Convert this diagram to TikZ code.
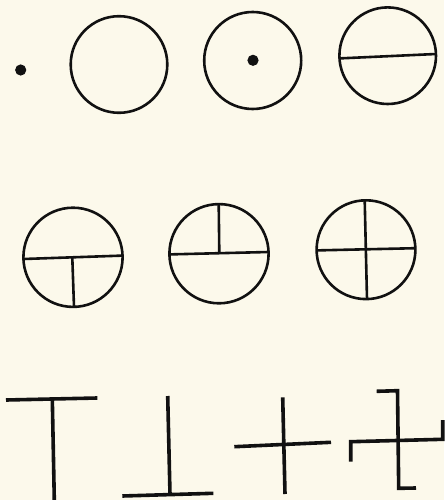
\documentclass[tikz,border=0pt]{standalone}
\usepackage{tikz}
\definecolor{paper}{HTML}{FCF9EB}
\definecolor{ink}{HTML}{111111}
\begin{document}
\begin{tikzpicture}[x=1pt,y=-1pt,
  ring/.style={draw=ink,line width=2.6pt},
  bar/.style={draw=ink,line width=2.6pt},
  stroke/.style={draw=ink,line width=3.6pt},
  spot/.style={fill=ink}]
\fill[paper] (0,0) rectangle (444,500);
\useasboundingbox (0,0) rectangle (444,500);
% row 1
\fill[spot] (20.7,70) circle (5.6);
\draw[ring] (119,64.5) circle (48.3);
\draw[ring] (252.7,60.5) circle (48.5);
\fill[spot] (253,60.3) circle (5.6);
\draw[ring] (387.7,55.7) circle (48.3);
\draw[bar] (339.6,58.4) -- (436,54);
% row 2
\draw[ring] (73,257.3) circle (49.6);
\draw[bar] (23.5,259) -- (122.5,255.6);
\draw[bar] (72.3,257.6) -- (74,306.8);
\draw[ring] (219,253.7) circle (49.6);
\draw[bar] (169.5,254.4) -- (268.5,252);
\draw[bar] (218.7,204.1) -- (219.3,253.2);
\draw[ring] (366,249.7) circle (49.4);
\draw[bar] (316.7,250.4) -- (415.4,248.2);
\draw[bar] (364.7,200.3) -- (367,299.1);
% row 3
\draw[stroke] (6,400) -- (97.3,398);
\draw[stroke] (52.3,399) -- (54.3,500);
\draw[stroke] (167.7,396) -- (170,494.5);
\draw[stroke] (122.3,496) -- (213.3,493.3);
\draw[stroke] (282.7,397.3) -- (285,494);
\draw[stroke] (234.3,446.7) -- (331,442.3);
\draw[stroke] (376.7,391.3) -- (397.5,390.7) -- (398.7,488.3) -- (416,488);
\draw[stroke] (350.7,461.7) -- (350.7,441.7) -- (442.7,439.3) -- (442.7,420);
\end{tikzpicture}
\end{document}
